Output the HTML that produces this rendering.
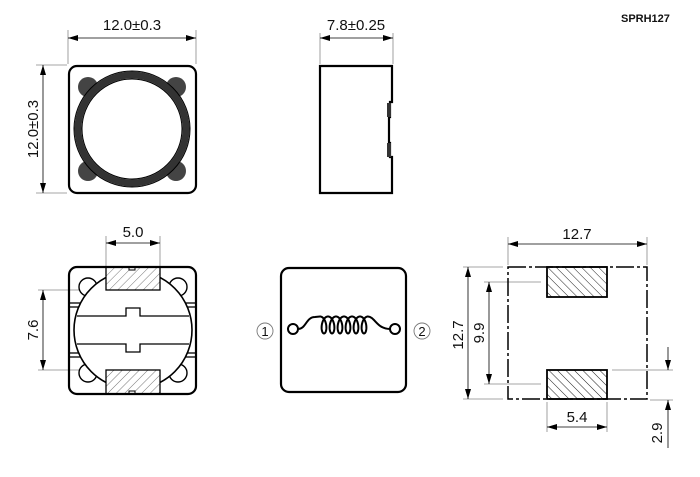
<!DOCTYPE html>
<html><head><meta charset="utf-8"><style>
html,body{margin:0;padding:0;background:#fff;}
svg{display:block;}
text{font-family:"Liberation Sans",Arial,sans-serif;fill:#111;}
</style></head><body>
<svg id="s" width="700" height="477" viewBox="0 0 700 477" xmlns="http://www.w3.org/2000/svg">
<defs>
<marker id="a" viewBox="0 0 10 6" refX="10" refY="3" markerWidth="10" markerHeight="6" orient="auto-start-reverse" markerUnits="userSpaceOnUse"><path d="M0,0 L10,3 L0,6 z" fill="#000"/></marker>
<pattern id="h" width="6" height="6" patternUnits="userSpaceOnUse" patternTransform="rotate(45)"><line x1="0" y1="0" x2="0" y2="6" stroke="#555" stroke-width="0.8"/></pattern>
<pattern id="h2" width="6" height="6" patternUnits="userSpaceOnUse" patternTransform="rotate(-45)"><line x1="0" y1="0" x2="0" y2="6" stroke="#222" stroke-width="1"/></pattern>
<clipPath id="cb"><rect x="70" y="267" width="126" height="126"/></clipPath>
</defs>

<text x="621" y="22" font-size="11" font-weight="bold">SPRH127</text>

<!-- top-left view -->
<g stroke="#888" stroke-width="0.8" fill="none">
<line x1="68" y1="30" x2="68" y2="64"/><line x1="196" y1="30" x2="196" y2="64"/>
<line x1="36" y1="65" x2="67" y2="65"/><line x1="36" y1="193" x2="67" y2="193"/>
</g>
<line x1="68" y1="38" x2="196" y2="38" stroke="#000" stroke-width="0.8" marker-start="url(#a)" marker-end="url(#a)"/>
<line x1="43" y1="65" x2="43" y2="193" stroke="#000" stroke-width="0.8" marker-start="url(#a)" marker-end="url(#a)"/>
<text x="132" y="30" font-size="15" text-anchor="middle">12.0±0.3</text>
<text transform="translate(38,129) rotate(-90)" font-size="15" text-anchor="middle">12.0±0.3</text>
<rect x="69" y="66" width="127" height="127" rx="8" fill="none" stroke="#000" stroke-width="2.2"/>
<g fill="#444">
<circle cx="88" cy="87" r="10"/><circle cx="176" cy="87" r="10"/>
<circle cx="88" cy="171" r="10"/><circle cx="176" cy="171" r="10"/>
</g>
<circle cx="132" cy="129" r="54" fill="none" stroke="#333" stroke-width="7"/>
<circle cx="132" cy="129" r="50" fill="#fff" stroke="#000" stroke-width="1"/>
<circle cx="132" cy="129" r="58" fill="none" stroke="#000" stroke-width="1"/>

<!-- side view -->
<g stroke="#888" stroke-width="0.8"><line x1="320" y1="33" x2="320" y2="64"/><line x1="393" y1="33" x2="393" y2="64"/></g>
<line x1="320" y1="38" x2="393" y2="38" stroke="#000" stroke-width="0.8" marker-start="url(#a)" marker-end="url(#a)"/>
<text x="356" y="30" font-size="15" text-anchor="middle">7.8±0.25</text>
<path d="M320,66 H392 V102 H390 V117 H389 V143 H390 V157 H392 V193 H320 Z" fill="none" stroke="#000" stroke-width="2.2"/>
<rect x="387" y="103" width="4" height="14" fill="#333"/><rect x="387" y="143" width="4" height="14" fill="#333"/>

<!-- bottom-left view -->
<g stroke="#888" stroke-width="0.8">
<line x1="106" y1="236" x2="106" y2="266"/><line x1="160" y1="236" x2="160" y2="266"/>
<line x1="38" y1="290" x2="104" y2="290"/><line x1="38" y1="370" x2="104" y2="370"/>
</g>
<line x1="106" y1="243" x2="160" y2="243" stroke="#000" stroke-width="0.8" marker-start="url(#a)" marker-end="url(#a)"/>
<line x1="43" y1="290" x2="43" y2="370" stroke="#000" stroke-width="0.8" marker-start="url(#a)" marker-end="url(#a)"/>
<text x="133" y="237" font-size="15" text-anchor="middle">5.0</text>
<text transform="translate(38,330) rotate(-90)" font-size="15" text-anchor="middle">7.6</text>
<g fill="#fff" stroke="#000" stroke-width="1.4">
<circle cx="88" cy="287" r="9"/><circle cx="178" cy="287" r="9"/>
<circle cx="88" cy="373" r="9"/><circle cx="178" cy="373" r="9"/>
</g>
<g clip-path="url(#cb)" fill="#fff" stroke="#000" stroke-width="1.6">
<circle cx="133" cy="330" r="59"/>
</g>
<g stroke="#000" stroke-width="1.3" fill="none">
<line x1="69" y1="303" x2="80" y2="303"/><line x1="69" y1="307" x2="79" y2="307"/>
<line x1="69" y1="353" x2="79" y2="353"/><line x1="69" y1="357" x2="80" y2="357"/>
<line x1="186" y1="303" x2="196" y2="303"/><line x1="187" y1="307" x2="196" y2="307"/>
<line x1="187" y1="353" x2="196" y2="353"/><line x1="186" y1="357" x2="196" y2="357"/>
<path d="M77,316 H126 V308 H140 V316 H189"/>
<path d="M77,344 H126 V352 H140 V344 H189"/>
</g>
<rect x="106" y="267" width="54" height="23" fill="#fff" stroke="none"/>
<rect x="106" y="370" width="54" height="24" fill="#fff" stroke="none"/>
<rect x="106" y="267" width="54" height="23" fill="url(#h)" stroke="#000" stroke-width="1.3"/>
<rect x="106" y="370" width="54" height="24" fill="url(#h)" stroke="#000" stroke-width="1.3"/>
<rect x="129" y="267" width="6" height="3" fill="#fff" stroke="#000" stroke-width="1"/>
<rect x="129" y="391" width="6" height="3" fill="#fff" stroke="#000" stroke-width="1"/>
<rect x="69" y="267" width="127" height="127" rx="8" fill="none" stroke="#000" stroke-width="2.2"/>

<!-- middle schematic -->
<rect x="281" y="268" width="125" height="124" rx="8" fill="none" stroke="#000" stroke-width="2.2"/>
<path id="coil" d="" fill="none" stroke="#000" stroke-width="2"/>
<circle cx="293" cy="329" r="5" fill="#fff" stroke="#000" stroke-width="2"/>
<circle cx="395" cy="329" r="5" fill="#fff" stroke="#000" stroke-width="2"/>
<circle cx="265" cy="331" r="8" fill="none" stroke="#777" stroke-width="0.9"/>
<circle cx="422" cy="331" r="8" fill="none" stroke="#777" stroke-width="0.9"/>
<text x="265" y="336" font-size="13" text-anchor="middle">1</text>
<text x="422" y="336" font-size="13" text-anchor="middle">2</text>

<!-- right land pattern -->
<g stroke="#888" stroke-width="0.8">
<line x1="508" y1="237" x2="508" y2="265"/><line x1="647" y1="237" x2="647" y2="265"/>
<line x1="463" y1="267" x2="503" y2="267"/><line x1="463" y1="399" x2="503" y2="399"/>
<line x1="484" y1="282" x2="541" y2="282"/><line x1="484" y1="384" x2="541" y2="384"/>
<line x1="547" y1="402" x2="547" y2="432"/><line x1="607" y1="402" x2="607" y2="432"/>
<line x1="612" y1="370" x2="673" y2="370"/><line x1="650" y1="400" x2="673" y2="400"/>
</g>
<line x1="508" y1="244" x2="647" y2="244" stroke="#000" stroke-width="0.8" marker-start="url(#a)" marker-end="url(#a)"/>
<line x1="468" y1="267" x2="468" y2="399" stroke="#000" stroke-width="0.8" marker-start="url(#a)" marker-end="url(#a)"/>
<line x1="489" y1="282" x2="489" y2="384" stroke="#000" stroke-width="0.8" marker-start="url(#a)" marker-end="url(#a)"/>
<line x1="547" y1="427" x2="607" y2="427" stroke="#000" stroke-width="0.8" marker-start="url(#a)" marker-end="url(#a)"/>
<line x1="668" y1="347" x2="668" y2="370" stroke="#000" stroke-width="0.8" marker-end="url(#a)"/>
<line x1="668" y1="448" x2="668" y2="400" stroke="#000" stroke-width="0.8" marker-end="url(#a)"/>
<text x="577" y="239" font-size="15" text-anchor="middle">12.7</text>
<text transform="translate(463,335) rotate(-90)" font-size="15" text-anchor="middle">12.7</text>
<text transform="translate(484,333) rotate(-90)" font-size="15" text-anchor="middle">9.9</text>
<text x="577" y="422" font-size="15" text-anchor="middle">5.4</text>
<text transform="translate(662,433) rotate(-90)" font-size="15" text-anchor="middle">2.9</text>
<rect x="508" y="267" width="139" height="132" fill="none" stroke="#000" stroke-width="1.5" stroke-dasharray="18,3,3,3"/>
<rect x="547" y="267" width="60" height="30" fill="url(#h2)" stroke="#000" stroke-width="1.8"/>
<rect x="547" y="370" width="60" height="29" fill="url(#h2)" stroke="#000" stroke-width="1.8"/>
</svg>
<script>
(function(){
var d="M298,329 C306,329 306,317 315,317";
var X0=320,p=8,n=6;
for(var i=0;i<=n*60;i++){var t=i/60*2*Math.PI;
var x=X0+p*t/(2*Math.PI)+4.2*Math.sin(t);var y=325-8.5*Math.cos(t);d+=" L"+x.toFixed(2)+","+y.toFixed(2);}
d+=" C375,317 377,329 390,329";
document.getElementById('coil').setAttribute('d',d);
})();
</script>
</body></html>
